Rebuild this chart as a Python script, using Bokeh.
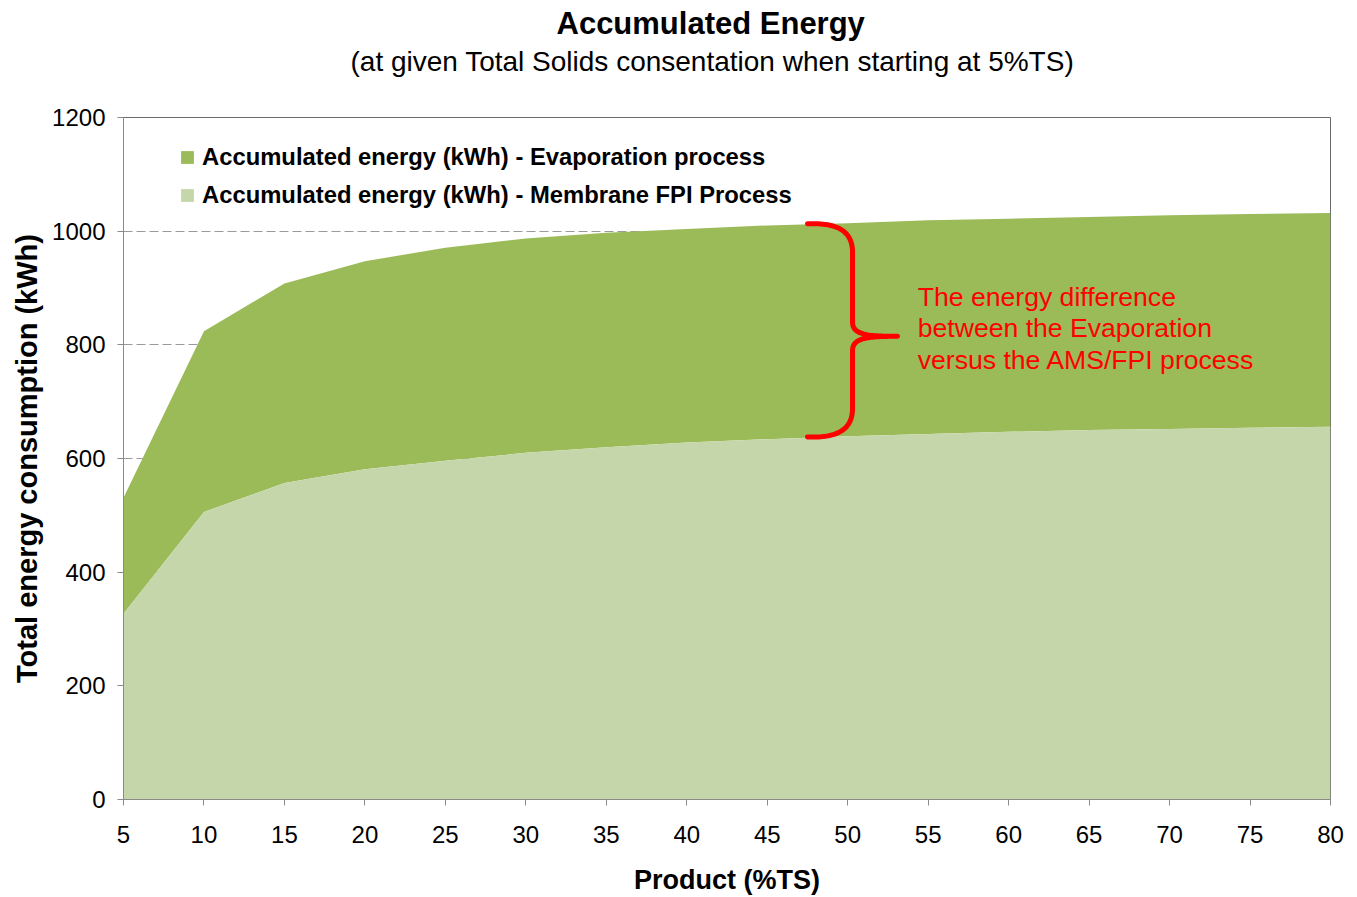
import numpy as np
from bokeh.plotting import figure
from bokeh.models import FixedTicker, Range1d, Title, Label, Legend, LegendItem
from bokeh.embed import file_html
from bokeh.resources import INLINE

# ---- data ----
ts = [5, 10, 15, 20, 25, 30, 35, 40, 45, 50, 55, 60, 65, 70, 75, 80]
evaporation = [531, 824, 908, 947, 971, 987, 997, 1004, 1010, 1014, 1019, 1022, 1025, 1028, 1030, 1032]
membrane = [327, 506, 557, 581, 596, 610, 620, 628, 634, 639, 643, 647, 650, 652, 654, 656]
x_ticks = list(range(5, 81, 5))
y_ticks = list(range(0, 1201, 200))

FONT = "Liberation Sans"
DARK = "#9BBB59"
LIGHT = "#C5D6AB"

p = figure(width=1349, height=897, output_backend="svg", toolbar_location=None,
           x_range=Range1d(5, 80), y_range=Range1d(0, 1200),
           min_border_left=123, min_border_right=19, min_border_top=0, min_border_bottom=0)

# titles (first added sits nearest the plot)
p.add_layout(Title(text=" ", text_font=FONT, text_font_size="10px", standoff=28), "above")
p.add_layout(Title(text="(at given Total Solids consentation when starting at 5%TS)",
                   align="left", offset=227, text_font=FONT, text_font_size="28px",
                   text_font_style="normal", text_color="black", standoff=0), "above")
p.add_layout(Title(text="Accumulated Energy", align="left", offset=433, text_font=FONT,
                   text_font_size="31px", text_font_style="bold", text_color="black",
                   standoff=6), "above")

# areas
r_evap = p.varea(x=ts, y1=membrane, y2=evaporation, fill_color=DARK)
r_mem = p.varea(x=ts, y1=0, y2=membrane, fill_color=LIGHT)

# axes
for ax in (p.xaxis[0], p.yaxis[0]):
    ax.axis_line_color = "#8a8a8a"
    ax.major_tick_line_color = "#8a8a8a"
    ax.minor_tick_line_color = None
    ax.major_tick_out = 6
    ax.major_tick_in = 0
    ax.major_label_text_font = FONT
    ax.major_label_text_font_size = "24px"
    ax.major_label_text_color = "black"
    ax.axis_label_text_font = FONT
    ax.axis_label_text_font_style = "bold"
    ax.axis_label_text_color = "black"

p.xaxis.axis_label_text_font_size = "27px"
p.yaxis.axis_label_text_font_size = "29px"
p.xaxis.ticker = FixedTicker(ticks=x_ticks)
p.yaxis.ticker = FixedTicker(ticks=y_ticks)
p.xaxis.axis_label = "Product (%TS)"
p.yaxis.axis_label = "Total energy consumption (kWh)"
p.xaxis.major_label_standoff = 20
p.yaxis.major_label_standoff = 12
p.xaxis.axis_label_standoff = 19
p.yaxis.axis_label_standoff = 6

p.xgrid.grid_line_color = None
p.ygrid.ticker = FixedTicker(ticks=y_ticks)
p.ygrid.grid_line_color = "#9a9a9a"
p.ygrid.grid_line_dash = "9 4"
p.outline_line_color = "#6a6a6a"
p.background_fill_color = "white"
p.border_fill_color = "white"

# legend
legend = Legend(items=[
    LegendItem(label="Accumulated energy (kWh) - Evaporation process", renderers=[r_evap]),
    LegendItem(label="Accumulated energy (kWh) - Membrane FPI Process", renderers=[r_mem]),
], location=(56, 590), margin=0, padding=0, spacing=10,
    glyph_width=16, glyph_height=16, label_height=24, label_standoff=7,
    label_text_font=FONT, label_text_font_size="23.8px", label_text_font_style="bold",
    label_text_color="black", border_line_color=None, background_fill_alpha=0)
p.add_layout(legend, "center")

# curly brace annotation
xl, xm, xt = 47.5, 50.3, 53.1
yt, yb, yc = 1013, 638, 815

def bez(p0, c0, c1, p1, n=30):
    t = np.linspace(0, 1, n)[:, None]
    P = np.array([p0, c0, c1, p1], dtype=float)
    return ((1 - t) ** 3) * P[0] + 3 * ((1 - t) ** 2) * t * P[1] + 3 * (1 - t) * t ** 2 * P[2] + t ** 3 * P[3]

segs = [
    bez((xl, yt), (xl + 1.7, yt + 2), (xm, yt - 10), (xm, yt - 50)),
    bez((xm, yt - 50), (xm, yt - 80), (xm, yc + 60), (xm, yc + 25)),
    bez((xm, yc + 25), (xm, yc + 2), (xm + 1.0, yc), (xt, yc)),
    bez((xt, yc), (xm + 1.0, yc), (xm, yc - 2), (xm, yc - 25)),
    bez((xm, yc - 25), (xm, yc - 60), (xm, yb + 80), (xm, yb + 50)),
    bez((xm, yb + 50), (xm, yb + 10), (xl + 1.7, yb - 2), (xl, yb)),
]
pts = np.vstack(segs)
p.line(x=pts[:, 0], y=pts[:, 1], line_color="red", line_width=5, line_cap="round", line_join="round")

note_lines = ["The energy difference", "between the Evaporation", "versus the AMS/FPI process"]
note_y = [885, 829, 773]
for txt, yy in zip(note_lines, note_y):
    p.add_layout(Label(x=54.35, y=yy, text=txt, text_font=FONT, text_font_size="26.6px",
                       text_color="red", text_baseline="middle", text_align="left"))

open("out.html", "w").write(file_html(p, INLINE))
